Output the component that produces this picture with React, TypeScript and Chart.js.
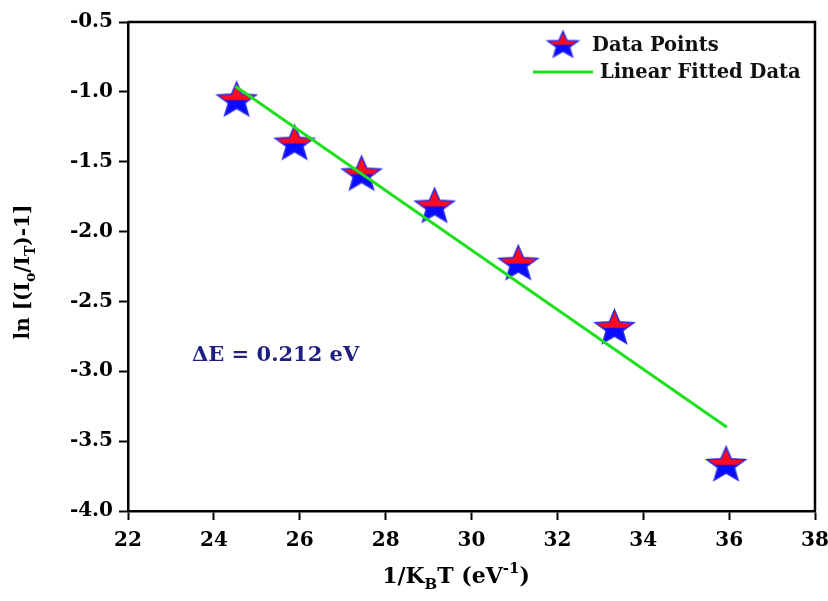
import React, { useEffect, useRef } from "react";
import { Chart, registerables } from "chart.js";

Chart.register(...registerables);

// Data
const pointX = [24.53, 25.88, 27.44, 29.14, 31.09, 33.33, 35.93];
const pointY = [-1.05, -1.36, -1.58, -1.81, -2.22, -2.68, -3.66];
const fitX = [24.5, 35.95];
const fitY = [-0.96, -3.4];
const xTicks = { min: 22, max: 38, step: 2 };
const yTicks = { min: -4, max: -0.5, step: 0.5 };
const legendLabels = ["Data Points", "Linear Fitted Data"];
const annotationText = "ΔE = 0.212 eV";

const FONT = "'DejaVu Serif', 'Liberation Serif', serif";

function makeStar(R: number, sx: number): HTMLCanvasElement {
  const size = Math.ceil(R * 2 * sx + 6);
  const c = document.createElement("canvas");
  c.width = size;
  c.height = size;
  const ctx = c.getContext("2d")!;
  const cx = size / 2;
  const cy = size / 2 + 0.0955 * R;
  const r = R * 0.43;
  ctx.beginPath();
  for (let i = 0; i < 10; i++) {
    const ang = (-90 + i * 36) * Math.PI / 180;
    const rad = i % 2 === 0 ? R : r;
    const px = cx + rad * Math.cos(ang) * sx;
    const py = cy + rad * Math.sin(ang);
    if (i === 0) ctx.moveTo(px, py);
    else ctx.lineTo(px, py);
  }
  ctx.closePath();
  ctx.save();
  ctx.clip();
  ctx.fillStyle = "#0a0aff";
  ctx.fillRect(0, 0, size, size);
  ctx.fillStyle = "#ff0a1e";
  ctx.fillRect(0, 0, size, cy - 0.5);
  ctx.restore();
  ctx.lineWidth = 1.5;
  ctx.strokeStyle = "#2a2ae6";
  ctx.lineJoin = "miter";
  ctx.stroke();
  return c;
}

type Seg = { t: string; mode?: "sub" | "sup" };

function drawRich(ctx: CanvasRenderingContext2D, segs: Seg[], x: number, y: number, size: number) {
  const small = Math.round(size * 0.68);
  const fontFor = (s: Seg) => `bold ${s.mode ? small : size}px ${FONT}`;
  let total = 0;
  for (const s of segs) {
    ctx.font = fontFor(s);
    total += ctx.measureText(s.t).width;
  }
  let cur = x - total / 2;
  ctx.textAlign = "left";
  ctx.textBaseline = "middle";
  for (const s of segs) {
    ctx.font = fontFor(s);
    const dy = s.mode === "sub" ? size * 0.38 : s.mode === "sup" ? -size * 0.38 : 0;
    ctx.fillText(s.t, cur, y + dy);
    cur += ctx.measureText(s.t).width;
  }
}

export default function App() {
  const ref = useRef<HTMLCanvasElement | null>(null);

  useEffect(() => {
    const canvas = ref.current;
    if (!canvas) return;
    const star = makeStar(18.5, 1.1);
    const legendStar = makeStar(14, 1.15);

    const decor = {
      id: "decor",
      afterDraw(chart: any) {
        const ctx: CanvasRenderingContext2D = chart.ctx;
        const a = chart.chartArea;
        ctx.save();
        // frame top and right
        ctx.strokeStyle = "#000";
        ctx.lineWidth = 2.5;
        ctx.beginPath();
        ctx.moveTo(a.left, a.top);
        ctx.lineTo(a.right, a.top);
        ctx.lineTo(a.right, a.bottom);
        ctx.stroke();

        // legend
        ctx.drawImage(legendStar, 563 - legendStar.width / 2, 44 - legendStar.height / 2);
        ctx.fillStyle = "#111";
        ctx.font = `bold 19.5px ${FONT}`;
        ctx.textAlign = "left";
        ctx.textBaseline = "middle";
        ctx.fillText(legendLabels[0], 592, 46);
        ctx.strokeStyle = "#1fe01f";
        ctx.lineWidth = 3;
        ctx.beginPath();
        ctx.moveTo(533, 72);
        ctx.lineTo(593, 72);
        ctx.stroke();
        ctx.fillText(legendLabels[1], 600, 73);

        // annotation
        ctx.fillStyle = "#1f1f80";
        ctx.font = `bold 21px ${FONT}`;
        ctx.fillText(annotationText, 192, 356);

        // axis titles
        ctx.fillStyle = "#000";
        drawRich(ctx, [
          { t: "1/K" },
          { t: "B", mode: "sub" },
          { t: "T (eV" },
          { t: "-1", mode: "sup" },
          { t: ")" },
        ], 456, 577, 22);

        ctx.save();
        ctx.translate(24, 272);
        ctx.rotate(-Math.PI / 2);
        drawRich(ctx, [
          { t: "ln [(I" },
          { t: "o", mode: "sub" },
          { t: "/I" },
          { t: "T", mode: "sub" },
          { t: ")-1]" },
        ], 0, 0, 20);
        ctx.restore();
        ctx.restore();
      },
    };

    const tickFont = { family: FONT, weight: "bold" as const, size: 20 };

    const chart = new Chart(canvas, {
      type: "scatter",
      data: {
        datasets: [
          {
            type: "line",
            label: legendLabels[1],
            data: fitX.map((x, i) => ({ x, y: fitY[i] })),
            borderColor: "#1fe01f",
            backgroundColor: "#1fe01f",
            borderWidth: 3,
            pointRadius: 0,
            showLine: true,
            fill: false,
            order: 0,
          } as any,
          {
            type: "scatter",
            label: legendLabels[0],
            data: pointX.map((x, i) => ({ x, y: pointY[i] })),
            pointStyle: star as any,
            pointRadius: 19,
            order: 1,
          } as any,
        ],
      },
      options: {
        responsive: false,
        animation: false,
        layout: { autoPadding: false, padding: { top: 22, right: 13, left: 0, bottom: 0 } },
        plugins: { legend: { display: false }, tooltip: { enabled: false } },
        scales: {
          x: {
            type: "linear",
            min: xTicks.min,
            max: xTicks.max,
            ticks: { stepSize: xTicks.step, font: tickFont, color: "#000", padding: 9, maxRotation: 0 },
            grid: { drawOnChartArea: false, tickLength: 9, tickWidth: 2, tickColor: "#000", color: "#000" },
            border: { color: "#000", width: 2.5 },
            afterFit: (s: any) => { s.height = 90; s.paddingLeft = 0; s.paddingRight = 0; },
          },
          y: {
            type: "linear",
            min: yTicks.min,
            max: yTicks.max,
            ticks: {
              stepSize: yTicks.step,
              font: tickFont,
              color: "#000",
              padding: 6,
              callback: (v: any) => Number(v).toFixed(1),
            },
            grid: { drawOnChartArea: false, tickLength: 9, tickWidth: 2, tickColor: "#000", color: "#000" },
            border: { color: "#000", width: 2.5 },
            afterFit: (s: any) => { s.width = 128; s.paddingTop = 0; s.paddingBottom = 0; },
          },
        },
      },
      plugins: [decor],
    });
    return () => chart.destroy();
  }, []);

  return (
    <div style={{ position: "absolute", left: 0, top: 0, width: 828, height: 601, background: "#fff" }}>
      <canvas ref={ref} width={828} height={601} style={{ width: 828, height: 601, display: "block" }} />
    </div>
  );
}
